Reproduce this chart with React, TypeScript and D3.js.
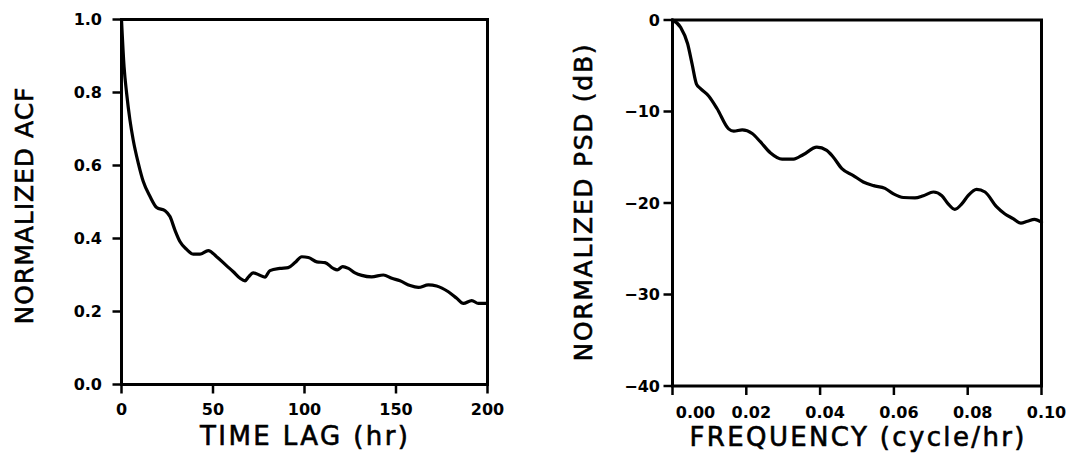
import React from "react";
import * as d3 from "d3";

// ---- Left panel: normalized autocorrelation function ----
const acfLag = [0, 1.4, 2.8, 4.6, 6.4, 9.2, 11.9, 15.6, 19.2, 23.8, 26.5, 29.2, 32, 35.6, 39.2, 42.9, 47.4, 52, 57.5, 61.1, 64.8, 67.5, 69.3, 72, 75.3, 78.4, 81.1, 86.6, 91.1, 94.8, 98.5, 102.1, 106.7, 111.2, 115.7, 117.9, 120.9, 124, 127.6, 131.3, 136.7, 143.1, 147.7, 152.2, 157.7, 162.2, 167.7, 172.2, 178.6, 183.2, 186.8, 191.4, 195, 200];
const acfValue = [1.0, 0.871, 0.798, 0.725, 0.67, 0.606, 0.556, 0.515, 0.485, 0.476, 0.46, 0.423, 0.391, 0.37, 0.357, 0.357, 0.367, 0.35, 0.325, 0.309, 0.291, 0.284, 0.294, 0.306, 0.3, 0.294, 0.312, 0.318, 0.32, 0.334, 0.35, 0.348, 0.336, 0.334, 0.318, 0.314, 0.323, 0.318, 0.306, 0.299, 0.295, 0.3, 0.291, 0.284, 0.271, 0.266, 0.273, 0.27, 0.254, 0.236, 0.222, 0.23, 0.222, 0.222];
const acfXTicks = [0, 50, 100, 150, 200];
const acfXTickLabels = ["0", "50", "100", "150", "200"];
const acfYTicks = [0, 0.2, 0.4, 0.6, 0.8, 1.0];
const acfYTickLabels = ["0.0", "0.2", "0.4", "0.6", "0.8", "1.0"];
const acfXTitle = "TIME LAG (hr)";
const acfYTitle = "NORMALIZED ACF";

// ---- Right panel: normalized power spectral density ----
const psdFreq = [0, 0.0022, 0.0041, 0.0053, 0.0065, 0.0076, 0.0098, 0.0121, 0.0152, 0.0166, 0.0189, 0.0216, 0.0238, 0.0265, 0.0297, 0.0328, 0.0355, 0.0391, 0.0418, 0.0436, 0.0459, 0.049, 0.0517, 0.0545, 0.0576, 0.0599, 0.0626, 0.0657, 0.068, 0.0707, 0.073, 0.0747, 0.0765, 0.0784, 0.0801, 0.0824, 0.0847, 0.0878, 0.0901, 0.0923, 0.0944, 0.0962, 0.0981, 0.1];
const psdDb = [0, -0.8, -2.6, -4.8, -7.0, -7.5, -8.3, -9.7, -11.9, -12.15, -12.0, -12.4, -13.3, -14.5, -15.2, -15.2, -14.7, -13.9, -14.25, -15.0, -16.25, -17.0, -17.7, -18.1, -18.4, -19.0, -19.4, -19.45, -19.2, -18.8, -19.2, -20.1, -20.7, -20.1, -19.2, -18.5, -18.8, -20.4, -21.2, -21.7, -22.2, -22.0, -21.8, -22.1];
const psdXTicks = [0, 0.02, 0.04, 0.06, 0.08, 0.1];
const psdXTickLabels = ["0.00", "0.02", "0.04", "0.06", "0.08", "0.10"];
const psdYTicks = [0, -10, -20, -30, -40];
const psdYTickLabels = ["0", "\u221210", "\u221220", "\u221230", "\u221240"];
const psdXTitle = "FREQUENCY (cycle/hr)";
const psdYTitle = "NORMALIZED PSD (dB)";

const TICK_FONT = "'DejaVu Sans', Verdana, sans-serif";
const TITLE_FONT = "'DejaVu Sans', Verdana, sans-serif";

type PanelProps = {
  xs: number[];
  ys: number[];
  xDomain: [number, number];
  yDomain: [number, number];
  xRange: [number, number];
  yRange: [number, number];
  xTicks: number[];
  xTickLabels: string[];
  yTicks: number[];
  yTickLabels: string[];
  xTitle: string;
  yTitle: string;
  xLabelBaseline: number;
  xLabelShift: number;
  firstXLabelShift: number;
  yLabelRight: number;
  xTitleX: number;
  xTitleLen: number;
  xTitleBaseline: number;
  yTitleX: number;
  yTitleY: number;
  yTitleLen: number;
};

function Panel(p: PanelProps) {
  const x = d3.scaleLinear().domain(p.xDomain).range(p.xRange);
  const y = d3.scaleLinear().domain(p.yDomain).range(p.yRange);
  const pts: [number, number][] = p.xs.map((v, i) => [v, p.ys[i]]);
  const line = d3
    .line<[number, number]>()
    .x((d) => x(d[0]))
    .y((d) => y(d[1]))
    .curve(d3.curveMonotoneX);
  const x0 = p.xRange[0];
  const x1 = p.xRange[1];
  const yb = p.yRange[0];
  const yt = p.yRange[1];
  const tickLen = 9;
  return (
    <g>
      <rect
        x={x0}
        y={yt}
        width={x1 - x0}
        height={yb - yt}
        fill="none"
        stroke="#000"
        strokeWidth={3}
      />
      {p.xTicks.map((t, i) => (
        <g key={"xt" + i}>
          <line x1={x(t)} x2={x(t)} y1={yb} y2={yb + tickLen} stroke="#000" strokeWidth={2.5} />
          <text
            x={x(t) + (i === 0 ? p.firstXLabelShift : p.xLabelShift)}
            y={p.xLabelBaseline}
            textAnchor="middle"
            fontFamily={TICK_FONT}
            fontWeight="bold"
            fontSize={16}
            fill="#000"
          >
            {p.xTickLabels[i]}
          </text>
        </g>
      ))}
      {p.yTicks.map((t, i) => (
        <g key={"yt" + i}>
          <line x1={x0 - tickLen} x2={x0} y1={y(t)} y2={y(t)} stroke="#000" strokeWidth={2.5} />
          <text
            x={p.yLabelRight}
            y={y(t)}
            dy="0.36em"
            textAnchor="end"
            fontFamily={TICK_FONT}
            fontWeight="bold"
            fontSize={16}
            fill="#000"
          >
            {p.yTickLabels[i]}
          </text>
        </g>
      ))}
      <path d={line(pts) || ""} fill="none" stroke="#000" strokeWidth={3.2} strokeLinejoin="round" strokeLinecap="round" />
      <text
        x={p.xTitleX}
        y={p.xTitleBaseline}
        textAnchor="middle"
        fontFamily={TITLE_FONT}
        fontSize={26}
        textLength={p.xTitleLen}
        lengthAdjust="spacing"
        fill="#000"
        stroke="#000"
        strokeWidth={0.6}
      >
        {p.xTitle}
      </text>
      <text
        transform={`translate(${p.yTitleX},${p.yTitleY}) rotate(-90)`}
        textAnchor="middle"
        fontFamily={TITLE_FONT}
        fontSize={25}
        textLength={p.yTitleLen}
        lengthAdjust="spacing"
        fill="#000"
        stroke="#000"
        strokeWidth={0.6}
      >
        {p.yTitle}
      </text>
    </g>
  );
}

export default function App() {
  return (
    <svg
      width={1071}
      height={459}
      viewBox="0 0 1071 459"
      style={{ position: "absolute", left: 0, top: 0, background: "#fff" }}
    >
      <rect x={0} y={0} width={1071} height={459} fill="#fff" />
      <Panel
        xs={acfLag}
        ys={acfValue}
        xDomain={[0, 200]}
        yDomain={[0, 1]}
        xRange={[121.5, 487.5]}
        yRange={[384.5, 19.5]}
        xTicks={acfXTicks}
        xTickLabels={acfXTickLabels}
        yTicks={acfYTicks}
        yTickLabels={acfYTickLabels}
        xTitle={acfXTitle}
        yTitle={acfYTitle}
        xLabelBaseline={415}
        xLabelShift={0}
        firstXLabelShift={0}
        yLabelRight={102}
        xTitleX={304}
        xTitleLen={208}
        xTitleBaseline={445}
        yTitleX={33}
        yTitleY={206}
        yTitleLen={237}
      />
      <Panel
        xs={psdFreq}
        ys={psdDb}
        xDomain={[0, 0.1]}
        yDomain={[-40, 0]}
        xRange={[672.5, 1041.5]}
        yRange={[386, 20]}
        xTicks={psdXTicks}
        xTickLabels={psdXTickLabels}
        yTicks={psdYTicks}
        yTickLabels={psdYTickLabels}
        xTitle={psdXTitle}
        yTitle={psdYTitle}
        xLabelBaseline={418}
        xLabelShift={5}
        firstXLabelShift={23}
        yLabelRight={660}
        xTitleX={857}
        xTitleLen={335}
        xTitleBaseline={446}
        yTitleX={592}
        yTitleY={203}
        yTitleLen={317}
      />
    </svg>
  );
}
